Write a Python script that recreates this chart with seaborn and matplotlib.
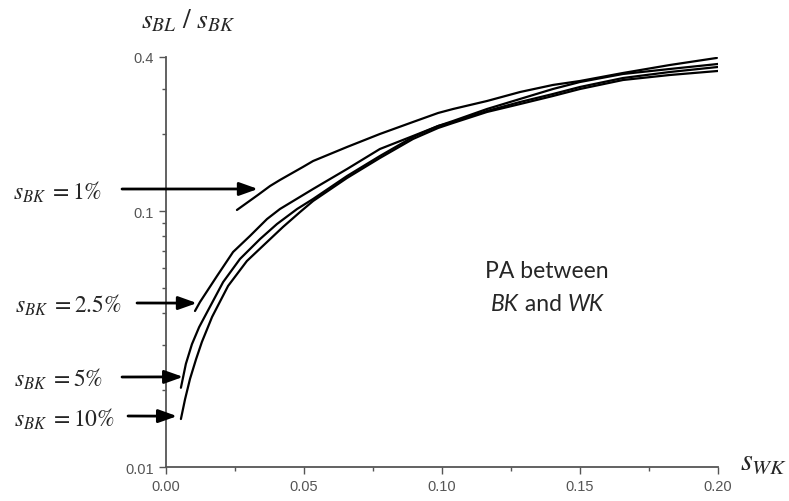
import pandas as pd
import matplotlib.pyplot as plt
import seaborn as sns

# curves: s_WK vs s_BL/s_BK, one per s_BK
labels = ['1%', '2.5%', '5%', '10%']

x_1 = [0.0257, 0.0333, 0.0377, 0.0413, 0.0496, 0.0533, 0.0656, 0.0775, 0.0895, 0.0986,
       0.1040, 0.1163, 0.1283, 0.1402, 0.1500, 0.1656, 0.1826, 0.1996]
y_1 = [0.1010, 0.1156, 0.1253, 0.1323, 0.1487, 0.1569, 0.1780, 0.2001, 0.2229, 0.2417,
       0.2505, 0.2692, 0.2919, 0.3110, 0.3223, 0.3464, 0.3722, 0.3966]

x_25 = [0.0105, 0.0123, 0.0185, 0.0243, 0.0304, 0.0366, 0.0413, 0.0533, 0.0656, 0.0775,
        0.0895, 0.0986, 0.1040, 0.1163, 0.1283, 0.1402, 0.1500, 0.1656, 0.1826, 0.2000]
y_25 = [0.0407, 0.0441, 0.0558, 0.0692, 0.0799, 0.0931, 0.1019, 0.1220, 0.1460, 0.1748,
        0.1965, 0.2150, 0.2249, 0.2505, 0.2742, 0.2999, 0.3194, 0.3433, 0.3591, 0.3756]

x_5 = [0.0054, 0.0072, 0.0094, 0.0120, 0.0149, 0.0207, 0.0268, 0.0341, 0.0402, 0.0475,
       0.0533, 0.0656, 0.0775, 0.0895, 0.0986, 0.1040, 0.1163, 0.1283, 0.1402, 0.1500,
       0.1656, 0.1826, 0.2000]
y_5 = [0.0204, 0.0253, 0.0302, 0.0352, 0.0403, 0.0528, 0.0650, 0.0778, 0.0890, 0.1019,
       0.1115, 0.1371, 0.1641, 0.1948, 0.2150, 0.2229, 0.2461, 0.2668, 0.2867, 0.3054,
       0.3311, 0.3495, 0.3656]

x_10 = [0.0054, 0.0069, 0.0087, 0.0109, 0.0130, 0.0167, 0.0225, 0.0293, 0.0366, 0.0424,
        0.0486, 0.0533, 0.0656, 0.0775, 0.0895, 0.0986, 0.1040, 0.1163, 0.1283, 0.1402,
        0.1500, 0.1656, 0.1826, 0.2000]
y_10 = [0.0154, 0.0184, 0.0221, 0.0264, 0.0308, 0.0386, 0.0510, 0.0638, 0.0757, 0.0867,
        0.0992, 0.1095, 0.1347, 0.1612, 0.1913, 0.2112, 0.2209, 0.2439, 0.2620, 0.2816,
        0.2999, 0.3252, 0.3402, 0.3527]

# where each arrow points (data coords)
arrow_x = [0.0333, 0.0112, 0.0062, 0.0040]
arrow_y = [0.122, 0.0437, 0.0225, 0.0158]

frames = []
for lab, xs, ys in zip(labels, [x_1, x_25, x_5, x_10], [y_1, y_25, y_5, y_10]):
    frames.append(pd.DataFrame({'s_WK': xs, 'ratio': ys, 's_BK': lab}))
df = pd.concat(frames, ignore_index=True)

sns.set_style('ticks')
plt.rcParams['mathtext.fontset'] = 'stix'
plt.rcParams['font.family'] = ['Liberation Sans', 'DejaVu Sans']

fig = plt.figure(figsize=(7.89, 5.02), dpi=100)
ax = fig.add_axes([0.2104, 0.0677, 0.6996, 0.8168])

sns.lineplot(data=df, x='s_WK', y='ratio', hue='s_BK', units='s_BK', estimator=None,
             sort=False, palette=['black'] * 4, linewidth=1.6, legend=False, ax=ax)

ax.set_yscale('log')
ax.set_xlim(0, 0.2)
ax.set_ylim(0.01, 0.4)
ax.set_xticks([0.0, 0.05, 0.10, 0.15, 0.20])
ax.set_xticklabels(['0.00', '0.05', '0.10', '0.15', '0.20'])
ax.set_xticks([0.025, 0.075, 0.125, 0.175], minor=True)
ax.set_yticks([0.01, 0.1, 0.4])
ax.set_yticklabels(['0.01', '0.1', '0.4'])
ax.set_yticks([0.02, 0.03, 0.04, 0.05, 0.06, 0.07, 0.08, 0.09, 0.2, 0.3], minor=True)
ax.set_yticklabels([], minor=True)
ax.set_xlabel('')
ax.set_ylabel('')
sns.despine(ax=ax)
for sp in ['left', 'bottom']:
    ax.spines[sp].set_color('#555555')
    ax.spines[sp].set_linewidth(1.3)
ax.tick_params(which='both', direction='out', color='#555555', labelcolor='#555555',
               labelsize=10.5, width=1.0)
ax.tick_params(which='major', length=5)
ax.tick_params(which='minor', length=3)

# axis titles
ax.text(0.04, 1.073, r'$s_{BL}\ /\ s_{BK}$', transform=ax.transAxes, fontsize=20,
        ha='center', va='baseline')
ax.text(1.083, -0.005, r'$s_{WK}$', transform=ax.transAxes, fontsize=22,
        ha='center', va='baseline')

# s_BK labels with arrows
label_x = [-0.116, -0.0797, -0.114, -0.0924]
label_y = [0.654, 0.378, 0.198, 0.100]
tail_x = [-0.0797, -0.0525, -0.0797, -0.0688]
tail_y = [0.678, 0.400, 0.2195, 0.1244]
for i, lab in enumerate(labels):
    ax.text(label_x[i], label_y[i], r'$s_{BK}\;=' + lab.replace('%', r'\%') + '$',
            transform=ax.transAxes, fontsize=17, ha='right', va='baseline')
    ax.annotate('', xy=(arrow_x[i], arrow_y[i]), xycoords='data',
                xytext=(tail_x[i], tail_y[i]), textcoords='axes fraction',
                arrowprops=dict(arrowstyle='-|>,head_length=0.7,head_width=0.25',
                                color='black', lw=2, mutation_scale=16,
                                shrinkA=0, shrinkB=0),
                annotation_clip=False)

# region note, sans serif with italic BK / WK
note_font = ['Lato', 'DejaVu Sans']
ax.text(0.69, 0.48, 'PA between', transform=ax.transAxes, fontsize=16.5,
        family=note_font, ha='center', va='center')
mid = ax.text(0.683, 0.40, ' and ', transform=ax.transAxes, fontsize=16.5,
              family=note_font, ha='center', va='center')
ax.annotate('BK', xy=(0, 0.5), xycoords=mid, fontsize=16.5, family=note_font,
            style='italic', ha='right', va='center')
ax.annotate('WK', xy=(1, 0.5), xycoords=mid, fontsize=16.5, family=note_font,
            style='italic', ha='left', va='center')

plt.savefig('out.png', dpi=100)
plt.close()
